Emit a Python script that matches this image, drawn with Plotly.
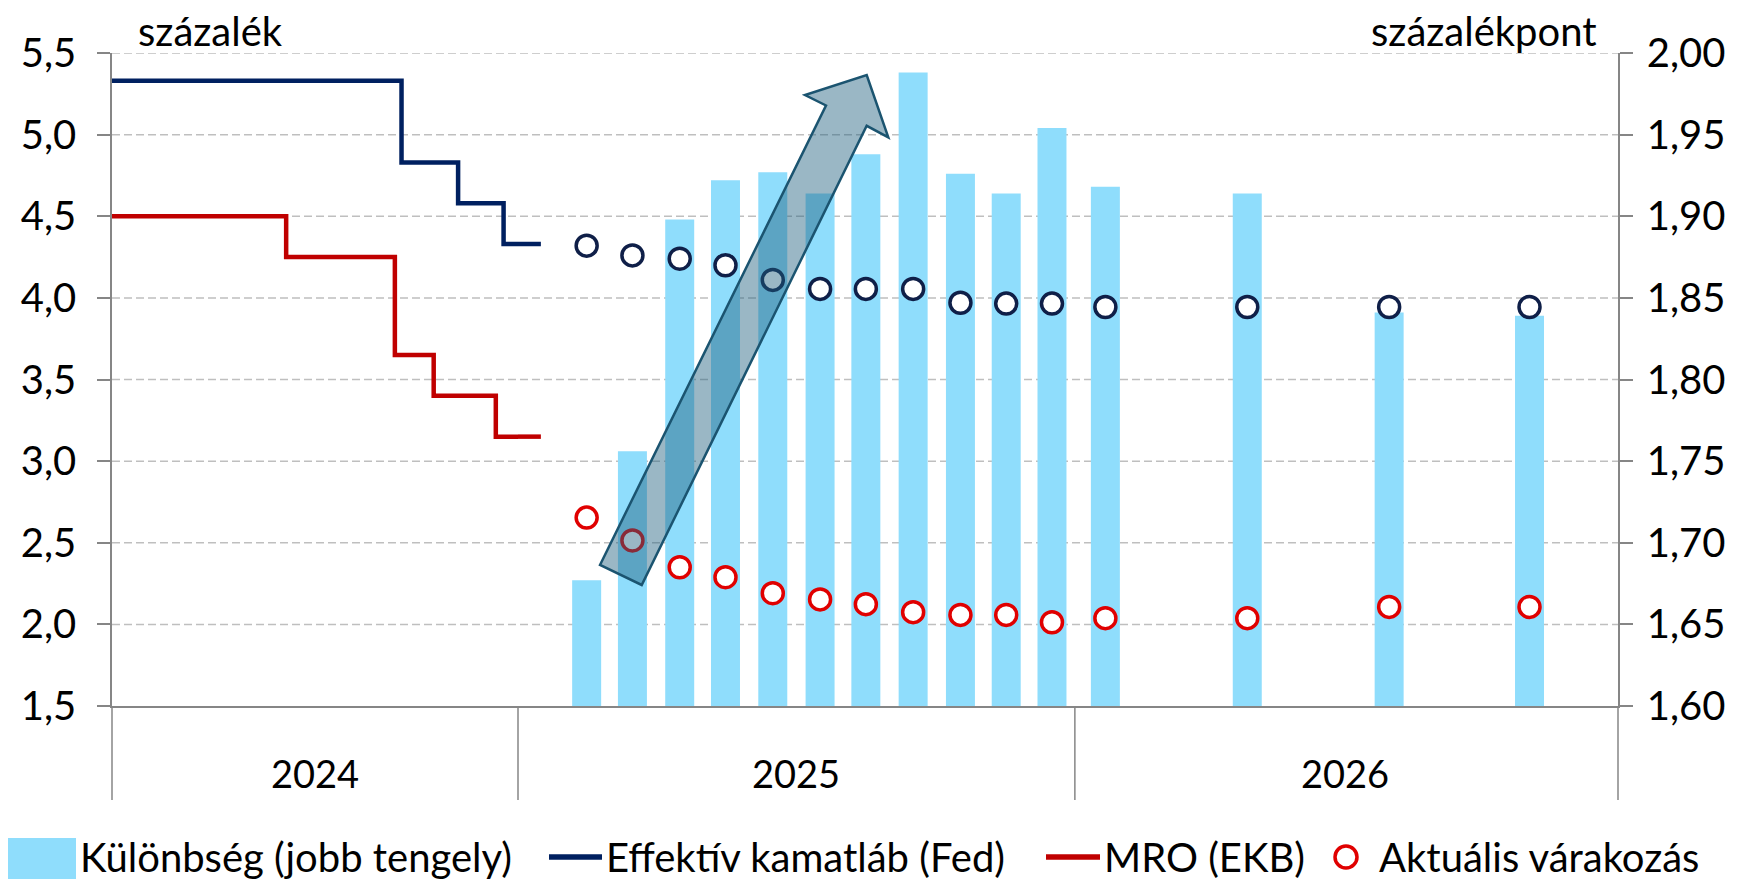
import plotly.graph_objects as go

# ---------------- data ----------------
fed_dates = ["2024-01-01", "2024-09-18", "2024-11-08", "2024-12-19", "2025-01-16"]
fed_rates = [5.33, 4.83, 4.58, 4.33, 4.33]

ecb_dates = ["2024-01-01", "2024-06-06", "2024-09-12", "2024-10-17", "2024-12-12", "2025-01-16"]
ecb_rates = [4.50, 4.25, 3.65, 3.40, 3.15, 3.15]

exp_dates = ["2025-02-15", "2025-03-17", "2025-04-17", "2025-05-17", "2025-06-17",
             "2025-07-18", "2025-08-17", "2025-09-17", "2025-10-18", "2025-11-17",
             "2025-12-17", "2026-01-21", "2026-04-24", "2026-07-26", "2026-10-26"]
fed_expected = [4.32, 4.26, 4.24, 4.20, 4.11, 4.055, 4.055, 4.055, 3.97, 3.965,
                3.965, 3.944, 3.944, 3.944, 3.944]
ecb_expected = [2.654, 2.514, 2.35, 2.289, 2.191, 2.153, 2.124, 2.075, 2.058, 2.058,
                2.013, 2.038, 2.038, 2.107, 2.107]
spread = [1.677, 1.756, 1.898, 1.922, 1.927, 1.914, 1.938, 1.988, 1.926, 1.914,
          1.954, 1.918, 1.914, 1.841, 1.839]

year_labels = ["2024", "2025", "2026"]
year_centers = ["2024-07-02", "2025-07-02", "2026-06-27"]
left_ticks = [1.5, 2.0, 2.5, 3.0, 3.5, 4.0, 4.5, 5.0, 5.5]
right_ticks = [1.60, 1.65, 1.70, 1.75, 1.80, 1.85, 1.90, 1.95, 2.00]

names = ["Különbség (jobb tengely)", "Effektív kamatláb (Fed)", "MRO (EKB)", "Aktuális várakozás"]
left_title = "százalék"
right_title = "százalékpont"

# ---------------- styling / layout constants ----------------
W, H = 1739, 879
OFF = 8                       # page body margin of the html page
REF_L, REF_R, REF_T, REF_B = 112, 1618, 53, 706   # plot box in window pixels
PW, PH = REF_R - REF_L, REF_B - REF_T
ML, MT = REF_L - OFF, REF_T - OFF
MR, MB = W - ML - PW, H - MT - PH
D1 = (518 - REF_L) / PW       # width share of the 2024 segment
FONT = "Lato"
FS = 40
AX = "#868686"
GRID = "#BFBFBF"
BAR = "#8FDDFC"
NAVY = "#002060"
RED = "#C00000"
DOT_NAVY = "#0F1F48"
DOT_RED = "#E00000"


def px(x):
    return (x - REF_L) / PW


def py(y):
    return (REF_B - y) / PH


def split_at_2025(dates, vals):
    a_d, a_v, b_d, b_v = [], [], [], []
    for d, v in zip(dates, vals):
        if d < "2025-01-01":
            a_d.append(d); a_v.append(v)
        else:
            b_d.append(d); b_v.append(v)
    a_d.append("2025-01-01"); a_v.append(a_v[-1])
    b_d.insert(0, "2025-01-01"); b_v.insert(0, a_v[-1])
    return a_d, a_v, b_d, b_v


fig = go.Figure()

# bars (right axis = base y)
fig.add_trace(go.Bar(x=exp_dates, y=spread, xaxis="x2", yaxis="y",
                     marker=dict(color=BAR, line=dict(width=0)),
                     width=19 * 86400000, name=names[0]))

# step lines (left axis = y2)
for dates, vals, col, nm in [(fed_dates, fed_rates, NAVY, names[1]),
                             (ecb_dates, ecb_rates, RED, names[2])]:
    a_d, a_v, b_d, b_v = split_at_2025(dates, vals)
    fig.add_trace(go.Scatter(x=a_d, y=a_v, xaxis="x", yaxis="y2", mode="lines",
                             line=dict(color=col, width=4.5, shape="hv"), name=nm))
    fig.add_trace(go.Scatter(x=b_d, y=b_v, xaxis="x2", yaxis="y2", mode="lines",
                             line=dict(color=col, width=4.5, shape="hv"), name=nm,
                             showlegend=False))

# expectation dots
for vals, col in [(fed_expected, DOT_NAVY), (ecb_expected, DOT_RED)]:
    fig.add_trace(go.Scatter(x=exp_dates, y=vals, xaxis="x2", yaxis="y2", mode="markers",
                             marker=dict(symbol="circle", size=21, color="white",
                                         line=dict(color=col, width=3.5)),
                             name=names[3]))

tickfont = dict(family=FONT, size=FS, color="black")
common_x = dict(type="date", showticklabels=False, ticks="", showgrid=False,
                zeroline=False, showline=True, linecolor=AX, linewidth=1.5, anchor="y",
                fixedrange=True)
fig.update_layout(
    width=W, height=H, margin=dict(l=ML, r=MR, t=MT, b=MB),
    plot_bgcolor="white", paper_bgcolor="white", showlegend=False,
    separators=", ",
    xaxis=dict(domain=[0, D1], range=["2024-01-01", "2025-01-01"], **common_x),
    xaxis2=dict(domain=[D1, 1], range=["2025-01-01", "2026-12-23"], **common_x),
    yaxis=dict(range=[1.6, 2.0], side="right", anchor="x2", tickvals=right_ticks,
               tickformat=".2f", ticks="outside", ticklen=13, tickwidth=1.5,
               tickcolor=AX, showline=True, linecolor=AX, linewidth=1.5,
               showgrid=False, zeroline=False, tickfont=tickfont,
               ticklabelstandoff=6, fixedrange=True),
    yaxis2=dict(range=[1.5, 5.5], side="left", overlaying="y", anchor="x",
                tickvals=left_ticks, tickformat=".1f", ticks="outside", ticklen=13,
                tickwidth=1.5, tickcolor=AX, showline=True, linecolor=AX,
                linewidth=1.5, showgrid=False, zeroline=False, tickfont=tickfont,
                ticklabelstandoff=13, fixedrange=True),
)

shapes = []
# dashed gridlines
for v in left_ticks[1:]:
    shapes.append(dict(type="line", xref="paper", yref="y2", x0=0, x1=1, y0=v, y1=v,
                       line=dict(color=GRID, width=1.5, dash="8px,4px"), layer="below"))
# category separators
ybot = py(800)
for xr, xv in [("paper", 0), ("paper", D1), ("x2", "2026-01-01"), ("paper", 1)]:
    shapes.append(dict(type="line", xref=xr, yref="paper", x0=xv, x1=xv, y0=0, y1=ybot,
                       line=dict(color=AX, width=1.5)))

# block arrow
pts = [(600, 565), (826, 105.5), (805, 95), (866.7, 75), (888.3, 137.3),
       (866.7, 125.8), (641.7, 585)]
path = "M " + " L ".join(f"{px(a):.5f},{py(b):.5f}" for a, b in pts) + " Z"
shapes.append(dict(type="path", xref="paper", yref="paper", path=path,
                   fillcolor="rgba(31,95,127,0.45)",
                   line=dict(color="#1B5470", width=2.5), layer="above"))

# manual legend
LY = 857
shapes.append(dict(type="rect", xref="paper", yref="paper", x0=px(7), x1=px(76),
                   y0=py(879), y1=py(838), fillcolor=BAR, line=dict(width=0)))
shapes.append(dict(type="line", xref="paper", yref="paper", x0=px(549), x1=px(602),
                   y0=py(LY), y1=py(LY), line=dict(color=NAVY, width=5.5)))
shapes.append(dict(type="line", xref="paper", yref="paper", x0=px(1046), x1=px(1100),
                   y0=py(LY), y1=py(LY), line=dict(color=RED, width=5.5)))
shapes.append(dict(type="circle", xref="paper", yref="paper", x0=px(1335), x1=px(1357),
                   y0=py(LY + 11), y1=py(LY - 11), fillcolor="white",
                   line=dict(color=DOT_RED, width=3.5)))

annotations = []
lfont = dict(family=FONT, size=FS, color="black")
yfont = dict(family=FONT, size=38, color="black")
for x0, txt in [(78, names[0]), (604, names[1]), (1102, names[2]), (1377, names[3])]:
    annotations.append(dict(xref="paper", yref="paper", x=px(x0), y=py(LY), text=txt,
                            xanchor="left", yanchor="middle", showarrow=False, font=lfont))
# year labels
for lab, c, xr in zip(year_labels, year_centers, ["x", "x2", "x2"]):
    annotations.append(dict(xref=xr, yref="paper", x=c, y=py(773), text=lab,
                            xanchor="center", yanchor="middle", showarrow=False,
                            font=yfont))
# axis titles
annotations.append(dict(xref="paper", yref="paper", x=px(136), y=py(31), text=left_title,
                        xanchor="left", yanchor="middle", showarrow=False, font=lfont))
annotations.append(dict(xref="paper", yref="paper", x=px(1599), y=py(31), text=right_title,
                        xanchor="right", yanchor="middle", showarrow=False, font=lfont))

fig.update_layout(shapes=shapes, annotations=annotations)
fig.write_html("out.html")
